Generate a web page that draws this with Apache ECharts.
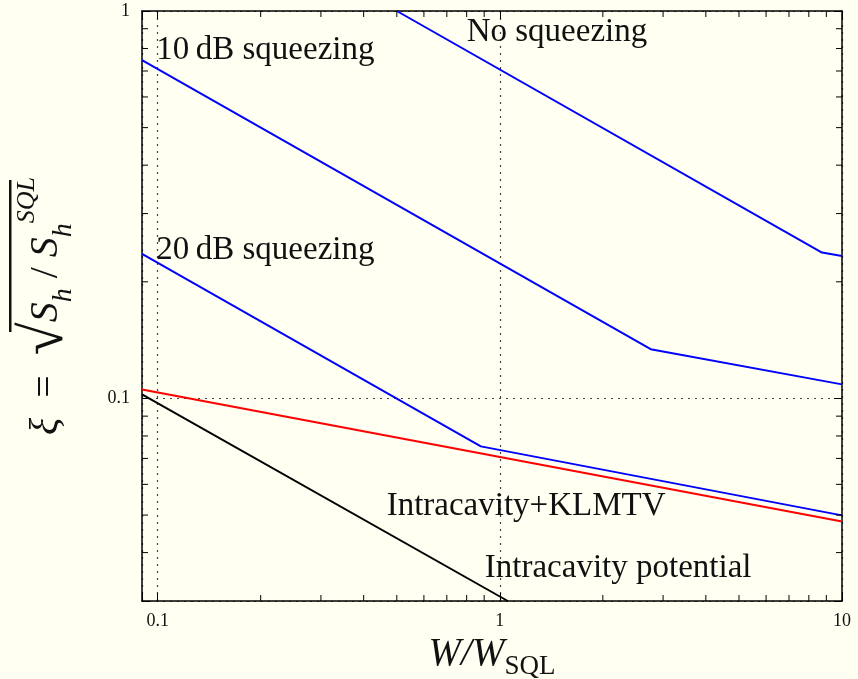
<!DOCTYPE html>
<html>
<head>
<meta charset="utf-8">
<script src="https://cdn.jsdelivr.net/npm/echarts@6/dist/echarts.min.js"></script>
<style>
  html, body { margin: 0; padding: 0; background: #fffff2; }
  #chart { width: 858px; height: 679px; }
</style>
</head>
<body>
<div id="chart"></div>
<script>
// curves: [W/W_SQL, xi]
const noSqueezing = [[0.5, 1.0], [8.74, 0.238], [10, 0.233]]
const squeeze10dB = [[0.09, 0.747], [2.76, 0.134], [10, 0.1087]]
const squeeze20dB = [[0.09, 0.236], [0.88, 0.0752], [10, 0.0499]]
const klmtv = [[0.09, 0.1055], [10, 0.0481]]
const potential = [[0.09, 0.1024], [1.055, 0.0300]]

// text labels placed in data coordinates (left edge, vertical centre)
const notes = [
  [0.80, 0.882, 'No squeezing'],
  [0.099, 0.793, '10\u2009dB squeezing'],
  [0.099, 0.241, '20\u2009dB squeezing'],
  [0.467, 0.0526, 'Intracavity+KLMTV'],
  [0.904, 0.0364, 'Intracavity potential']
]

// axis ranges and minor tick positions
const xRange = [0.09, 10]
const yRange = [0.03, 1]
const xMinorTicks = [0.2, 0.3, 0.4, 0.5, 0.6, 0.7, 0.8, 0.9, 2, 3, 4, 5, 6, 7, 8, 9]
const yMinorTicks = [0.04, 0.05, 0.06, 0.07, 0.08, 0.09, 0.2, 0.3, 0.4, 0.5, 0.6, 0.7, 0.8, 0.9]
const majorLabels = ['0.1', '1', '10']

const serif = '"Liberation Serif", "DejaVu Serif", serif'

function majorOnly(v) {
  const s = String(+v.toPrecision(6))
  return majorLabels.indexOf(s) >= 0 ? s : ''
}

function baseAxis(pos) {
  return {
    type: 'log', logBase: 10,
    position: pos,
    axisLine: { show: true, onZero: false, lineStyle: { color: '#000', width: 1.5 } },
    axisTick: { show: true, inside: true, length: 8, lineStyle: { color: '#000', width: 1 } },
    splitLine: { show: false },
    axisLabel: { show: false }
  }
}

const chart = echarts.init(document.getElementById('chart'))

function minorTickSeries(ticks, isX) {
  return {
    type: 'custom',
    silent: true,
    z: 5,
    clip: false,
    data: ticks.map(v => isX ? [v, yRange[0]] : [xRange[0], v]),
    renderItem(params, api) {
      const cs = params.coordSys
      const p = api.coord([api.value(0), api.value(1)])
      const len = 6
      const st = { stroke: '#000', lineWidth: 1 }
      if (isX) {
        const b = cs.y + cs.height, t = cs.y
        return { type: 'group', children: [
          { type: 'line', shape: { x1: p[0], y1: b, x2: p[0], y2: b - len }, style: st },
          { type: 'line', shape: { x1: p[0], y1: t, x2: p[0], y2: t + len }, style: st }
        ] }
      }
      const l = cs.x, r = cs.x + cs.width
      return { type: 'group', children: [
        { type: 'line', shape: { x1: l, y1: p[1], x2: l + len, y2: p[1] }, style: st },
        { type: 'line', shape: { x1: r, y1: p[1], x2: r - len, y2: p[1] }, style: st }
      ] }
    }
  }
}

function curve(name, data, color) {
  return {
    name: name, type: 'line', data: data,
    showSymbol: false, symbol: 'none', animation: false,
    lineStyle: { color: color, width: 2 },
    z: 3
  }
}

const ink = '#111'

const option = {
  backgroundColor: '#fffff2',
  animation: false,
  grid: { left: 142, right: 16, top: 11, bottom: 78, containLabel: false, outerBoundsMode: 'none' },
  xAxis: [
    Object.assign(baseAxis('bottom'), {
      min: xRange[0], max: xRange[1],
      splitLine: { show: true, lineStyle: { color: '#444', type: [2, 5], width: 1.2 } },
      axisLabel: {
        show: true, margin: 11, fontFamily: serif, fontSize: 18, color: ink,
        formatter: majorOnly, showMinLabel: true, showMaxLabel: true
      },
      name: '{i|W}{n|/}{i|W}{s|SQL}',
      nameLocation: 'middle', nameGap: 27,
      nameTextStyle: {
        rich: {
          i: { fontFamily: serif, fontStyle: 'italic', fontSize: 39, color: ink, lineHeight: 44, verticalAlign: 'bottom' },
          n: { fontFamily: serif, fontStyle: 'italic', fontSize: 39, color: ink, lineHeight: 44, verticalAlign: 'bottom' },
          s: { fontFamily: serif, fontSize: 27, color: ink, lineHeight: 44, verticalAlign: 'bottom', padding: [0, 0, -7, 0] }
        }
      }
    }),
    Object.assign(baseAxis('top'), { min: xRange[0], max: xRange[1] })
  ],
  yAxis: [
    Object.assign(baseAxis('left'), {
      min: yRange[0], max: yRange[1],
      splitLine: { show: true, lineStyle: { color: '#444', type: [2, 5], width: 1.2 } },
      axisLabel: {
        show: true, margin: 12, fontFamily: serif, fontSize: 18, color: ink,
        formatter: majorOnly
      },
      name: '{i|\u03be}{n|  =  }{r|\u221a}{i|S}{s|h}{n| / }{i|S}{s|h}{p|SQL}',
      nameLocation: 'middle', nameGap: 66, nameRotate: 90,
      nameTextStyle: {
        rich: {
          i: { fontFamily: serif, fontStyle: 'italic', fontSize: 40, color: ink, lineHeight: 60, verticalAlign: 'middle' },
          n: { fontFamily: serif, fontSize: 40, color: ink, lineHeight: 60, verticalAlign: 'middle' },
          r: { fontFamily: serif, fontSize: 60, color: ink, lineHeight: 60, verticalAlign: 'middle' },
          s: { fontFamily: serif, fontStyle: 'italic', fontSize: 28, color: ink, lineHeight: 60, verticalAlign: 'bottom', padding: [0, 0, -2, 0] },
          p: { fontFamily: serif, fontStyle: 'italic', fontSize: 26, color: ink, lineHeight: 60, verticalAlign: 'top', padding: [-2, 0, 0, 0] }
        }
      }
    }),
    Object.assign(baseAxis('right'), { min: yRange[0], max: yRange[1] })
  ],
  series: [
    curve('No squeezing', noSqueezing, '#0000ff'),
    curve('10 dB squeezing', squeeze10dB, '#0000ff'),
    curve('20 dB squeezing', squeeze20dB, '#0000ff'),
    curve('Intracavity+KLMTV', klmtv, '#ff0000'),
    curve('Intracavity potential', potential, '#000000'),
    minorTickSeries(xMinorTicks, true),
    minorTickSeries(yMinorTicks, false),
    {
      type: 'scatter', silent: true, z: 6,
      symbolSize: 0,
      itemStyle: { opacity: 1, color: 'transparent' },
      data: notes.map(n => ({ value: [n[0], n[1]], name: n[2] })),
      label: {
        show: true, position: 'right', distance: 0,
        formatter: p => p.name,
        fontFamily: serif, fontSize: 33, color: ink, opacity: 1
      }
    }
  ],
  graphic: [
    // overbar of the square root in the rotated y-axis title
    { type: 'rect', shape: { x: 9, y: 180, width: 2.5, height: 152 }, style: { fill: ink } }
  ]
}

chart.setOption(option)
</script>
</body>
</html>
